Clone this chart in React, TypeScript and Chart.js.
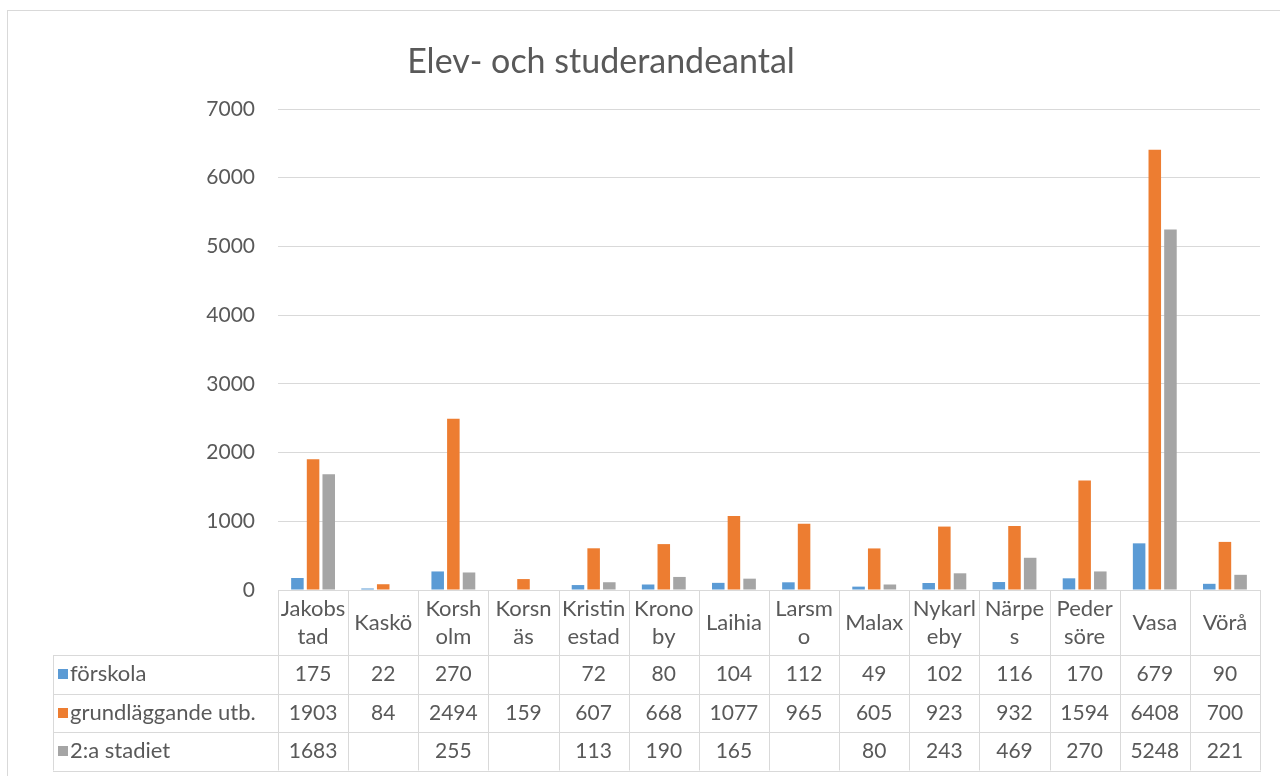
import React, { useEffect, useRef } from "react";
import { Chart, registerables } from "chart.js";

Chart.register(...registerables);

const title = "Elev- och studerandeantal";
const categories: string[][] = [
  ["Jakobs", "tad"],
  ["Kaskö"],
  ["Korsh", "olm"],
  ["Korsn", "äs"],
  ["Kristin", "estad"],
  ["Krono", "by"],
  ["Laihia"],
  ["Larsm", "o"],
  ["Malax"],
  ["Nykarl", "eby"],
  ["Närpe", "s"],
  ["Peder", "söre"],
  ["Vasa"],
  ["Vörå"],
];
const forskola: (number | null)[] = [175, 22, 270, null, 72, 80, 104, 112, 49, 102, 116, 170, 679, 90];
const grundlaggande: (number | null)[] = [1903, 84, 2494, 159, 607, 668, 1077, 965, 605, 923, 932, 1594, 6408, 700];
const andraStadiet: (number | null)[] = [1683, null, 255, null, 113, 190, 165, null, 80, 243, 469, 270, 5248, 221];
const seriesNames = ["förskola", "grundläggande utb.", "2:a stadiet"];
const seriesColors = ["#5B9BD5", "#ED7D31", "#A5A5A5"];
const yTicks = [0, 1000, 2000, 3000, 4000, 5000, 6000, 7000];

const FONT = "Lato, 'Open Sans', sans-serif";
const TEXT = "#595959";
const LINE = "#D9D9D9";

const tablePlugin = {
  id: "dataTable",
  afterDraw(chart: any) {
    const ctx = chart.ctx;
    const x = chart.scales.x;
    const area = chart.chartArea;
    const n = categories.length;
    const colW = (area.right - area.left) / n;
    const top = area.bottom;
    const headerBottom = top + 65;
    const rowH = 38.5;
    const tableLeft = 53;
    const rowsBottom = headerBottom + rowH * 3;

    ctx.save();
    // outer chart border
    ctx.strokeStyle = LINE;
    ctx.lineWidth = 1;
    ctx.strokeRect(7.5, 10.5, 1300, 800);

    // title
    ctx.fillStyle = TEXT;
    ctx.font = `34px ${FONT}`;
    ctx.textAlign = "center";
    ctx.textBaseline = "middle";
    ctx.fillText(title, 601, 62);

    // table lines
    ctx.strokeStyle = LINE;
    ctx.beginPath();
    for (let i = 0; i <= n; i++) {
      const xx = Math.round(area.left + i * colW) + 0.5;
      ctx.moveTo(xx, top);
      ctx.lineTo(xx, rowsBottom);
    }
    ctx.moveTo(tableLeft + 0.5, headerBottom);
    ctx.lineTo(tableLeft + 0.5, rowsBottom);
    for (let r = 0; r <= 3; r++) {
      const yy = Math.round(headerBottom + r * rowH) + 0.5;
      ctx.moveTo(tableLeft, yy);
      ctx.lineTo(area.right + 1, yy);
    }
    ctx.stroke();

    // header labels
    ctx.fillStyle = TEXT;
    ctx.font = `22px ${FONT}`;
    ctx.textAlign = "center";
    ctx.textBaseline = "middle";
    categories.forEach((lines, i) => {
      const cx = x.getPixelForValue(i);
      if (lines.length === 1) {
        ctx.fillText(lines[0], cx, top + 33);
      } else {
        ctx.fillText(lines[0], cx, top + 19);
        ctx.fillText(lines[1], cx, top + 47);
      }
    });

    // rows
    const data = [forskola, grundlaggande, andraStadiet];
    data.forEach((vals, r) => {
      const cy = headerBottom + r * rowH + rowH / 2;
      ctx.fillStyle = seriesColors[r];
      ctx.fillRect(58, Math.round(cy - 5), 10, 10);
      ctx.fillStyle = TEXT;
      ctx.textAlign = "left";
      ctx.font = `22px ${FONT}`;
      ctx.fillText(seriesNames[r], 70, cy);
      ctx.textAlign = "center";
      ctx.font = `21px ${FONT}`;
      vals.forEach((v, i) => {
        if (v === null) return;
        ctx.fillText(String(v), x.getPixelForValue(i), cy);
      });
    });
    ctx.restore();
  },
};

export default function App() {
  const ref = useRef<HTMLCanvasElement | null>(null);
  useEffect(() => {
    if (!ref.current) return;
    const chart = new Chart(ref.current, {
      type: "bar",
      data: {
        labels: categories,
        datasets: [forskola, grundlaggande, andraStadiet].map((d, i) => ({
          label: seriesNames[i],
          data: d,
          backgroundColor: seriesColors[i],
          categoryPercentage: 0.67,
          barPercentage: 0.8,
        })),
      },
      options: {
        responsive: false,
        animation: false,
        devicePixelRatio: 1,
        layout: { padding: { left: 0, top: 109, right: 20, bottom: 186 } },
        plugins: {
          legend: { display: false },
          title: { display: false },
          tooltip: { enabled: false },
        },
        scales: {
          x: {
            display: false,
            grid: { display: false },
          },
          y: {
            min: 0,
            max: 7000,
            afterFit: (scale: any) => {
              scale.width = 278;
            },
            afterBuildTicks: (scale: any) => {
              scale.ticks = yTicks.map((v) => ({ value: v }));
            },
            border: { display: false },
            grid: { color: LINE, lineWidth: 1, drawTicks: false },
            ticks: {
              color: TEXT,
              font: { family: FONT, size: 21 },
              padding: 23,
              callback: (v: any) => String(v),
            },
          },
        },
      },
      plugins: [tablePlugin],
    });
    return () => chart.destroy();
  }, []);
  return (
    <div style={{ position: "fixed", left: 0, top: 0, width: 1280, height: 776, background: "#fff" }}>
      <canvas ref={ref} width={1280} height={776} />
    </div>
  );
}
